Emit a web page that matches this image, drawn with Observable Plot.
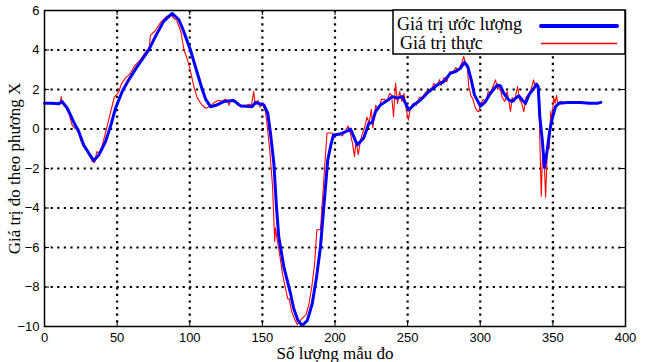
<!DOCTYPE html>
<html>
<head>
<meta charset="utf-8">
<script src="https://cdn.jsdelivr.net/npm/d3@7"></script>
<script src="https://cdn.jsdelivr.net/npm/@observablehq/plot@0.6"></script>
<style>
  html, body { margin: 0; padding: 0; background: #fff; }
</style>
</head>
<body>
<div id="chart"></div>
<script>
// ---- Data ----
const xLabel = "Số lượng mẫu đo";
const yLabel = "Giá trị đo theo phương X";
const seriesNames = ["Giá trị ước lượng", "Giá trị thực"];
const xTicks = [0, 50, 100, 150, 200, 250, 300, 350, 400];
const yTicks = [-10, -8, -6, -4, -2, 0, 2, 4, 6];

// Estimated values (blue)
const estX = [0,5,10,12,15.6,20,23.6,27,30.5,34,37.4,42,45.4,48.9,53.5,58,63.8,71.8,76.4,82,87.9,92.5,95,98,100.5,104.5,108.6,111,114.3,118,123.4,130.3,135,139,143,145.3,148,151,153.7,155.6,157.9,159.7,161.3,164.8,169.4,171.6,174.5,177.4,180.9,184.3,187.3,190,192.3,195,197.4,199,203.8,207,210.7,213,215.3,219.8,223.3,225.6,227.9,231.3,235.9,239.4,242.8,246.3,250.8,254.3,258.9,264.6,270.4,274.9,279.5,283,286.4,289.2,291.4,293.8,296,300.2,303.6,307,311.7,313.9,316.2,319.6,322,324.3,326.6,328.9,331.2,333.5,337,338.7,339.9,341,342.7,344.2,346.1,347.9,349.6,351.8,354.2,359.9,369,375,380.5,383];
const estY = [1.30,1.30,1.28,1.40,1.07,0.37,-0.14,-0.81,-1.23,-1.60,-1.32,-0.64,0.12,1.05,1.90,2.49,3.16,4.01,4.69,5.45,5.85,5.53,5.10,4.50,4.00,3.00,2.00,1.50,1.13,1.20,1.39,1.44,1.17,1.15,1.13,1.34,1.28,1.22,0.80,-0.22,-1.74,-3.94,-5.47,-6.99,-8.34,-9.10,-9.70,-9.95,-9.70,-8.85,-7.50,-5.97,-3.94,-1.57,-0.73,-0.30,-0.25,-0.15,0.00,-0.40,-0.81,-0.45,0.29,0.32,0.88,1.22,1.44,1.64,1.56,1.64,0.96,1.22,1.47,1.90,2.23,2.40,2.83,2.91,3.08,3.37,3.16,2.49,1.73,1.15,1.39,1.81,2.23,2.18,1.81,1.47,1.39,1.56,1.68,1.47,1.30,1.73,2.07,2.27,2.15,0.63,-0.56,-1.95,-1.07,-0.05,0.54,1.13,1.30,1.34,1.34,1.30,1.30,1.35];

// Measured (true) values (red)
const trueX = [0,5,10,11,11.5,12,14,17,19,21,23,25,27,29,31,33,34.5,36,37.5,39.5,42,44,46,48,51,53,56,59,62,66,70,72,73,76,80,84,87,89,91,94,96,98,100,103,105,108,111,114,117,120,122,124,126,127,128,131,133,136,139,141,142.5,144,145,147,148.5,150,152,153,155,157,158.5,159,160,162,164,166,167.5,168.5,170,172,174,176,178,180,182,184,186,187.5,190,191,193,194.5,198,199,200,203,205,207,209,210.5,212,213.4,214.5,216,217.5,219,220.5,222,223.5,225,226,228,230,232,234,236,237.5,239,240.3,241.7,243,244.5,246,247.5,249,250.5,252,254,256,258,260,262,264,266,268,270,272,273,275,277,279,281,283,285,287,288.7,290,291,292,293.5,295,296.5,298,299,300.5,302,304,305.5,307,308.5,310.5,312,313.5,315,317,318.5,320,320.8,322,323.5,325,325.7,327,328.5,330,331.5,333,335,336.7,338,339.5,340.5,342,343,344,345,346.5,347.5,348.5,349.5,350.5,351.5,352.5,353.5,355,357,365,375,383];
const trueY = [1.32,1.28,1.30,1.35,1.64,1.30,1.15,0.75,0.20,0.03,0.00,-0.60,-0.90,-1.10,-1.35,-1.65,-1.70,-1.15,-1.20,-0.90,-0.20,0.40,1.00,1.60,1.85,2.30,2.60,2.80,3.20,3.50,3.95,4.10,4.75,4.95,5.40,5.70,5.80,5.60,5.50,4.90,4.00,3.60,3.10,2.10,1.60,1.25,1.05,1.15,1.35,1.45,1.40,1.50,1.45,1.20,1.45,1.45,1.20,1.20,1.20,1.25,1.20,1.90,1.30,1.45,1.10,1.30,0.90,0.40,-1.00,-2.90,-5.70,-5.00,-5.50,-6.40,-7.40,-8.10,-8.60,-8.60,-9.20,-9.60,-9.90,-9.70,-9.55,-9.40,-8.90,-8.00,-6.80,-5.10,-5.10,-4.00,-1.80,-0.20,-0.20,-0.50,-0.30,-0.20,-0.35,-0.10,0.15,-0.20,-0.70,-1.40,-0.60,-1.30,-0.60,-0.20,0.10,0.60,0.30,1.00,0.05,1.20,1.00,1.50,1.50,1.40,1.80,1.70,0.62,2.33,1.30,1.90,1.40,1.80,1.00,0.45,1.10,1.30,1.20,1.60,1.60,1.80,2.00,1.90,2.30,2.20,2.50,2.20,2.60,2.40,2.90,2.80,3.10,3.00,3.30,3.67,3.20,3.30,2.20,1.70,1.50,1.10,0.90,0.88,1.30,1.50,1.40,1.90,1.80,2.10,2.49,2.00,2.20,1.60,1.40,1.90,1.30,0.88,1.60,1.40,1.90,2.15,1.50,1.30,0.88,1.60,1.70,2.00,2.49,2.10,2.20,1.00,-3.40,-1.00,-1.50,-3.45,-0.50,-1.00,0.90,0.50,1.60,1.30,1.70,1.20,1.40,1.35,1.33,1.33,1.33];

const est = estX.map((x, i) => ({x, y: estY[i]}));
const meas = trueX.map((x, i) => ({x, y: trueY[i]}));
const gridX = xTicks.filter(d => d > 0 && d < 400);
const gridY = yTicks.filter(d => d > -10 && d < 6);

const W = 654, H = 362;
const mL = 44, mR = 29, mT = 10, mB = 36;
const fw = W - mL - mR, fh = H - mT - mB;

const chart = Plot.plot({
  width: W, height: H,
  marginLeft: mL, marginRight: mR, marginTop: mT, marginBottom: mB,
  style: {fontFamily: "'Liberation Sans', Arial, sans-serif", fontSize: "13px", color: "#000", background: "#fff"},
  x: {domain: [0, 400]},
  y: {domain: [-10, 6]},
  marks: [
    Plot.ruleX(gridX, {stroke: "#000", strokeWidth: 2.2, strokeDasharray: "2.2 4.4", strokeOpacity: 1}),
    Plot.ruleY(gridY, {stroke: "#000", strokeWidth: 2.2, strokeDasharray: "2.2 4.4", strokeOpacity: 1}),
    Plot.ruleX(xTicks, {stroke: "#000", strokeWidth: 1, insetTop: fh - 5}),
    Plot.ruleX(xTicks, {stroke: "#000", strokeWidth: 1, insetBottom: fh - 5}),
    Plot.ruleY(yTicks, {stroke: "#000", strokeWidth: 1, insetRight: fw - 5}),
    Plot.ruleY(yTicks, {stroke: "#000", strokeWidth: 1, insetLeft: fw - 5}),
    Plot.line(meas, {x: "x", y: "y", stroke: "#ff0000", strokeWidth: 1.1}),
    Plot.line(est, {x: "x", y: "y", stroke: "#0000ff", strokeWidth: 3, strokeLinejoin: "round"}),
    Plot.frame({stroke: "#000", strokeWidth: 1.5}),
    Plot.axisX(xTicks, {tickSize: 0, tickPadding: 6, label: null, fontSize: 13}),
    Plot.axisY(yTicks, {tickSize: 0, tickPadding: 5, label: null, fontSize: 13}),
    Plot.text([xLabel], {frameAnchor: "bottom", dy: 27, fontFamily: "'Liberation Serif', 'Times New Roman', serif", fontSize: 17, lineAnchor: "middle", textAnchor: "middle"}),
    Plot.text([yLabel], {frameAnchor: "left", dx: -30, rotate: -90, fontFamily: "'Liberation Serif', 'Times New Roman', serif", fontSize: 17, lineAnchor: "middle", textAnchor: "middle"})
  ]
});

// Legend box (MATLAB-style) drawn into the plot's SVG
const svg = d3.select(chart);
const lg = svg.append("g")
  .attr("font-family", "'Liberation Serif', 'Times New Roman', serif")
  .attr("font-size", 18)
  .attr("text-anchor", "start")
  .attr("fill", "#000");
lg.append("rect").attr("x", 393).attr("y", 10).attr("width", 232).attr("height", 44)
  .attr("fill", "#fff").attr("stroke", "#000").attr("stroke-width", 1.5);
lg.append("text").attr("x", 397).attr("y", 30).attr("text-anchor", "start").text(seriesNames[0]);
lg.append("text").attr("x", 400).attr("y", 49).attr("text-anchor", "start").text(seriesNames[1]);
lg.append("line").attr("x1", 541).attr("x2", 617).attr("y1", 26).attr("y2", 26)
  .attr("stroke", "#0000ff").attr("stroke-width", 4).attr("stroke-linecap", "round");
lg.append("line").attr("x1", 541).attr("x2", 617).attr("y1", 43.5).attr("y2", 43.5)
  .attr("stroke", "#ff0000").attr("stroke-width", 1.5);

document.getElementById("chart").appendChild(chart);
</script>
</body>
</html>
